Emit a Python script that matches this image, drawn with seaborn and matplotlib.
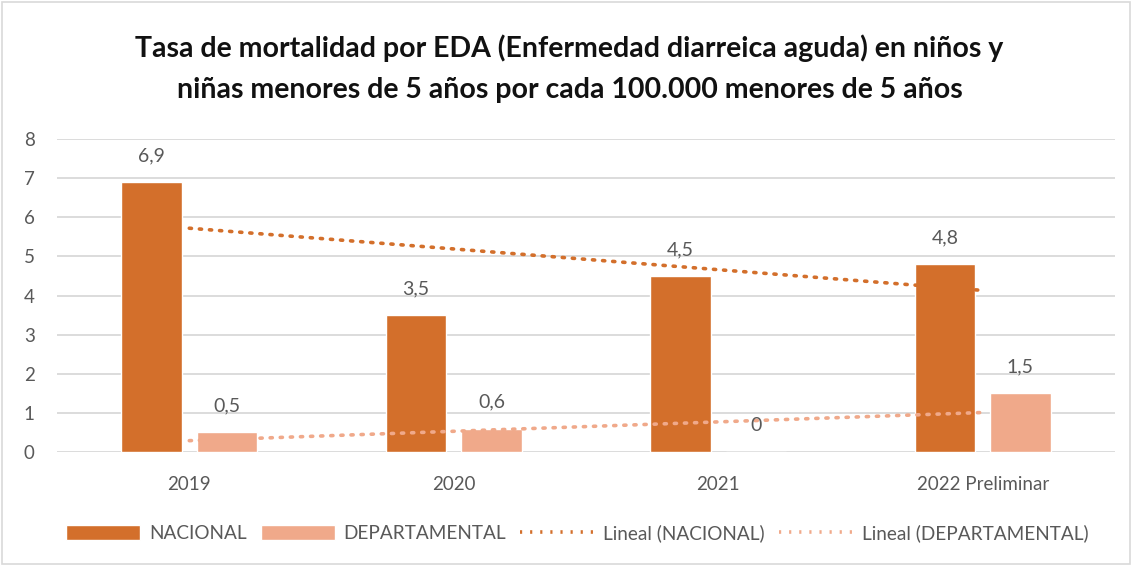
import numpy as np
import pandas as pd
import seaborn as sns
import matplotlib.pyplot as plt
from matplotlib.lines import Line2D
from matplotlib.patches import Patch, Rectangle

sns.set_theme(style="white")
plt.rcParams["font.family"] = ["Lato", "DejaVu Sans"]

anios = ["2019", "2020", "2021", "2022 Preliminar"]
nacional = [6.9, 3.5, 4.5, 4.8]
departamental = [0.5, 0.6, 0.0, 1.5]
yticks = [0, 1, 2, 3, 4, 5, 6, 7, 8]

COL_NAC = "#D36F2B"
COL_DEP = "#F0A98A"
TXT = "#595959"

df = pd.DataFrame({
    "Año": anios * 2,
    "Serie": ["NACIONAL"] * 4 + ["DEPARTAMENTAL"] * 4,
    "Valor": nacional + departamental,
})

fig = plt.figure(figsize=(11.32, 5.66), dpi=100)
ax = fig.add_axes([0.0504, 0.2014, 0.9346, 0.553])

sns.barplot(data=df, x="Año", y="Valor", hue="Serie",
            palette={"NACIONAL": COL_NAC, "DEPARTAMENTAL": COL_DEP},
            width=0.57, gap=0.2, legend=False, ax=ax, saturation=1)

# etiquetas de datos
for cont in ax.containers:
    for bar in cont:
        h = bar.get_height()
        txt = f"{h:.1f}".replace(".", ",") if h != 0 else "0"
        ax.annotate(txt, (bar.get_x() + bar.get_width() / 2, h),
                    xytext=(0, 13), textcoords="offset points",
                    ha="center", va="bottom", fontsize=14, color=TXT)

# lineas de tendencia (ajuste lineal como Excel)
xs = np.arange(1, 5)
for serie, col in [(nacional, COL_NAC), (departamental, COL_DEP)]:
    m, b = np.polyfit(xs, serie, 1)
    ax.plot(xs - 1, m * xs + b, linestyle=(0, (0.6, 2.2)), linewidth=2.6,
            color=col, dash_capstyle="round")

ax.set_xlim(-0.5, 3.5)
ax.set_ylim(0, 8)
ax.set_yticks(yticks)
ax.yaxis.grid(True, color="#D9D9D9", linewidth=1.3)
ax.set_axisbelow(True)
for s in ax.spines.values():
    s.set_visible(False)
ax.set_xlabel("")
ax.set_ylabel("")
ax.tick_params(axis="both", labelsize=13.5, labelcolor=TXT, length=0)
ax.tick_params(axis="y", pad=16)
ax.tick_params(axis="x", pad=17)

fig.suptitle("Tasa de mortalidad por EDA (Enfermedad diarreica aguda) en niños y\n"
             "niñas menores de 5 años por cada 100.000 menores de 5 años",
             x=0.503, y=0.94, fontsize=20.5, fontweight="bold", color="#111111",
             linespacing=1.75)

handles = [
    Patch(facecolor=COL_NAC, label="NACIONAL"),
    Patch(facecolor=COL_DEP, label="DEPARTAMENTAL"),
    Line2D([], [], color=COL_NAC, linestyle=(0, (0.6, 2.2)), linewidth=2.6, label="Lineal (NACIONAL)"),
    Line2D([], [], color=COL_DEP, linestyle=(0, (0.6, 2.2)), linewidth=2.6, label="Lineal (DEPARTAMENTAL)"),
]
leg = fig.legend(handles=handles, loc="center", bbox_to_anchor=(0.51, 0.058), ncol=4,
                 frameon=False, fontsize=13.7, handlelength=3.9, handleheight=0.8,
                 columnspacing=0.75, handletextpad=0.45)
for t in leg.get_texts():
    t.set_color(TXT)

fig.patches.append(Rectangle((0.002, 0.003), 0.996, 0.994, transform=fig.transFigure,
                             fill=False, edgecolor="#D9D9D9", linewidth=1.2))

fig.savefig("out.png", dpi=100)
